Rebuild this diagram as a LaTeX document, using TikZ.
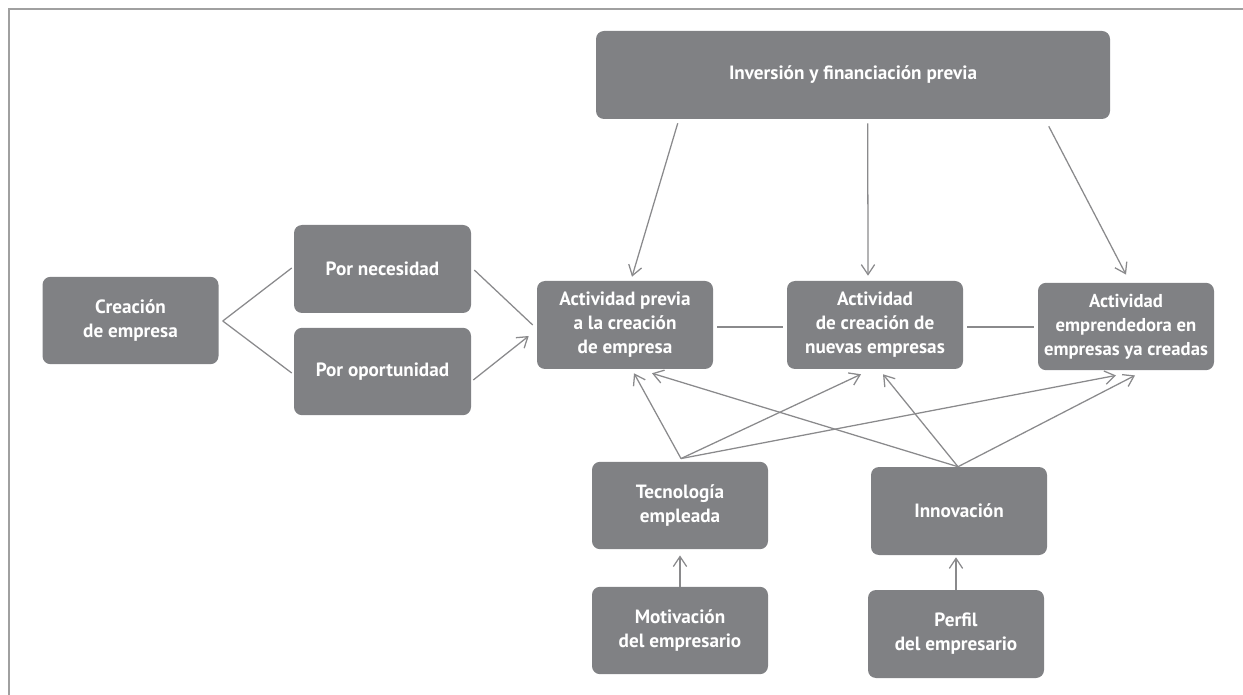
\documentclass[tikz,border=0pt]{standalone}
\usepackage{fontspec}
\setmainfont{PT Sans}
\usetikzlibrary{arrows.meta,calc}
\definecolor{boxgray}{HTML}{808184}
\definecolor{linegray}{HTML}{8A8A8C}
\definecolor{framegray}{HTML}{A0A0A0}
\tikzset{
  box/.style={draw=none, fill=boxgray, rounded corners=6pt, text=white,
    font=\fontsize{14.4}{18}\selectfont\bfseries, align=center, inner sep=0pt,
    minimum width=132pt, minimum height=65.5pt},
  conn/.style={draw=linegray, line width=0.95pt},
  arr/.style={conn, -{Straight Barb[length=7.5pt,width=10pt,line width=0.95pt]}}
}
\begin{document}
\begin{tikzpicture}[x=0.75pt,y=-0.75pt]
\useasboundingbox (0,0) rectangle (1243,695);
\draw[framegray, line width=1.6pt] (9,695) -- (9,9) -- (1243,9);

\node[box] (cre) at (130.5,320.5) {Creación\\de empresa};
\node[box, minimum width=132.75pt, minimum height=66pt] (nec) at (382.5,269) {Por necesidad};
\node[box, minimum width=132.75pt] (opo) at (382.5,371.5) {Por oportunidad};
\node[box, minimum height=66pt] (prev) at (625,325) {Actividad previa\\a la creación\\de empresa};
\node[box, minimum height=66pt] (nue) at (875,325) {Actividad\\de creación de\\nuevas empresas};
\node[box, font=\fontsize{14.0}{18}\selectfont\bfseries] (emp) at (1126,326.5) {Actividad\\emprendedora en\\empresas ya creadas};
\node[box, minimum width=385.5pt, minimum height=66pt] (inv) at (853,75) {Inversión y financiación previa};
\node[box] (tec) at (680,505.5) {Tecnología\\empleada};
\node[box, minimum height=66pt] (ino) at (959,511) {Innovación};
\node[box] (mot) at (680,630.5) {Motivación\\del empresario};
\node[box, minimum height=66pt] (per) at (956,634) {Perfil\\del empresario};

% Creación -> two branches
\draw[conn] ($(cre.east)+(4,0.5)$) -- ($(nec.west)+(-2,-1)$);
\draw[conn] ($(cre.east)+(4,0.5)$) -- ($(opo.west)+(-2,1.5)$);

% branches -> actividad previa
\draw[conn] ($(nec.east)+(3,1)$) -- ($(prev.west)+(-4,0)$);
\draw[arr] ($(opo.east)+(2,8.5)$) -- ($(prev.west)+(-8,11)$);

% horizontal links
\draw[conn] ($(prev.east)+(4,2)$) -- ($(nue.west)+(-4,2)$);
\draw[conn] ($(nue.east)+(4,2)$) -- ($(emp.west)+(-4,0.5)$);

% inversión arrows
\draw[arr] ($(inv.south west)+(82,4)$) -- ($(prev.north)+(7,-4)$);
\draw[arr] ($(inv.south west)+(272,4)$) -- ($(nue.north)+(-7,-5)$);
\draw[arr] ($(inv.south west)+(453,7)$) -- ($(emp.north)+(0,-8)$);

% tecnología arrows
\coordinate (tecapex) at ($(tec.north)+(1,-3)$);
\draw[arr] (tecapex) -- ($(prev.south)+(9,4)$);
\draw[arr] (tecapex) -- ($(nue.south)+(-14,5)$);
\draw[arr] (tecapex) -- ($(emp.south)+(-10,5)$);

% innovación arrows
\coordinate (inoapex) at ($(ino.north)+(-1,0)$);
\draw[arr] (inoapex) -- ($(prev.south)+(27,4)$);
\draw[arr] (inoapex) -- ($(nue.south)+(8,5)$);
\draw[arr] (inoapex) -- ($(emp.south)+(9,5)$);

% vertical arrows
\draw[arr] (mot.north) -- ($(tec.south)+(0,6)$);
\draw[arr] (per.north) -- ($(per.north |- ino.south)+(0,2)$);
\end{tikzpicture}
\end{document}
